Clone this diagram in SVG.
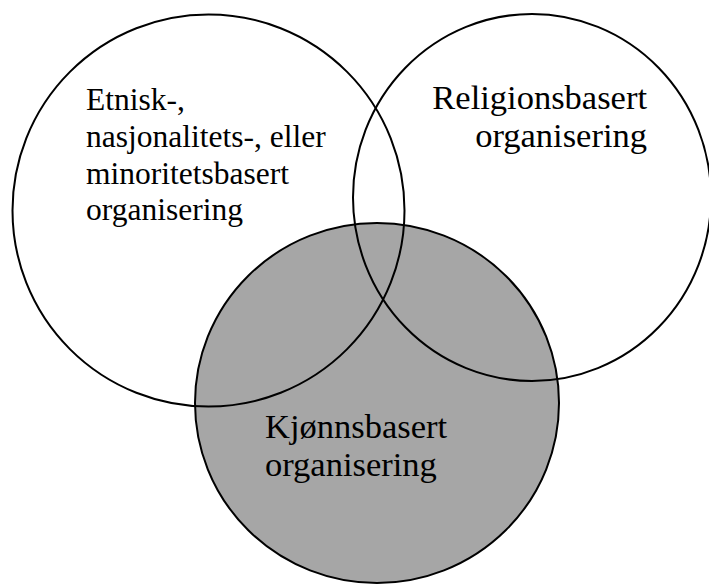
<svg xmlns="http://www.w3.org/2000/svg" width="709" height="586" viewBox="0 0 709 586">
<style>
.ring{stroke:#000;stroke-width:2;fill:none}
.gray{fill:#a6a6a6}
text{fill:#000;font-family:'Liberation Serif','DejaVu Serif',serif}
</style>
<rect width="709" height="586" fill="#fff"/>
<g id="kjonn">
<ellipse class="ring gray" cx="377" cy="403" rx="182" ry="180"/>
<text font-size="34.5" x="265" y="437.5">Kjønnsbasert</text>
<text font-size="34.5" x="265" y="476">organisering</text>
</g>
<g id="etnisk">
<circle class="ring" cx="208.5" cy="210.5" r="196"/>
<text font-size="31.5" x="86" y="109.5">Etnisk-,</text>
<text font-size="31.5" x="86" y="146.5">nasjonalitets-, eller</text>
<text font-size="31.5" x="86" y="183.5">minoritetsbasert</text>
<text font-size="31.5" x="86" y="220">organisering</text>
</g>
<g id="religion">
<ellipse class="ring" cx="532" cy="197.5" rx="179" ry="183.5"/>
<text font-size="34.5" x="647" y="108.5" text-anchor="end">Religionsbasert</text>
<text font-size="34.5" x="647" y="147" text-anchor="end">organisering</text>
</g>
</svg>
